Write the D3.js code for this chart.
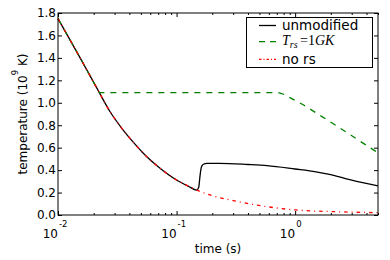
<!DOCTYPE html>
<html>
<head>
<meta charset="utf-8">
<script src="https://cdn.jsdelivr.net/npm/d3@7"></script>
<style>
  body { margin: 0; background: #fff; }
  svg { display: block; }
  .tick text { font-family: "DejaVu Sans", sans-serif; font-size: 12px; fill: #000; }
  .tick line { stroke: #000; }
</style>
</head>
<body>
<div id="chart"></div>
<script>
var svgWidth = 390;
var svgHeight = 260;

var margin = { top: 13, right: 12, bottom: 45, left: 58 };
var width = svgWidth - margin.left - margin.right;
var height = svgHeight - margin.top - margin.bottom;

// shared cooling part (all three runs coincide here)
var timeEarly = [0.01, 0.015, 0.0218];
var tempEarly = [1.75, 1.42, 1.11];

// unmodified run
var timeUnmod = [0.0275, 0.0344, 0.045, 0.0524, 0.07, 0.1, 0.125, 0.148, 0.154, 0.157, 0.16, 0.164, 0.171, 0.18, 0.23, 0.4, 0.58, 1.0, 1.5, 1.9, 3.0, 5.0];
var tempUnmod = [0.92, 0.775, 0.627, 0.55, 0.43, 0.312, 0.258, 0.222, 0.25, 0.33, 0.40, 0.44, 0.455, 0.46, 0.46, 0.45, 0.44, 0.41, 0.385, 0.365, 0.31, 0.26];

// T_rs = 1 GK run
var timeTrs = [0.0222, 0.72, 0.8, 1.18, 2.25, 3.33, 5.0];
var tempTrs = [1.09, 1.09, 1.076, 0.98, 0.793, 0.675, 0.555];

// no rs run (follows unmodified until the jump)
var timeNoRs = [0.167, 0.2, 0.3, 0.58, 1.0, 2.1, 5.0];
var tempNoRs = [0.20, 0.172, 0.128, 0.074, 0.045, 0.03, 0.021];

var legendLabels = ["unmodified", "T_rs=1GK", "no rs"];
var yTicks = [0.0, 0.2, 0.4, 0.6, 0.8, 1.0, 1.2, 1.4, 1.6, 1.8];
var xMajor = [0.01, 0.1, 1];
var xExp = ["-2", "-1", "0"];

function zip(ts, vs) {
    return ts.map(function (t, i) { return { t: t, v: vs[i] }; });
}

var unmodData = zip(timeEarly.concat(timeUnmod), tempEarly.concat(tempUnmod));
var trsData = zip(timeEarly.concat(timeTrs), tempEarly.concat(tempTrs));
var noRsData = zip(timeEarly.concat(timeUnmod.slice(0, 8), timeNoRs),
                   tempEarly.concat(tempUnmod.slice(0, 8), tempNoRs));

var svg = d3.select("#chart")
    .append("svg")
    .attr("width", svgWidth)
    .attr("height", svgHeight);

var chartGroup = svg.append("g")
    .attr("transform", `translate(${margin.left}, ${margin.top})`);

var xScale = d3.scaleLog().domain([0.01, 5]).range([0, width]);
var yScale = d3.scaleLinear().domain([0, 1.8]).range([height, 0]);

// minor ticks on the log axis
var xMinor = [];
[0.01, 0.1, 1].forEach(function (base) {
    for (var k = 2; k <= 9; k++) {
        var v = base * k;
        if (v <= 5) xMinor.push(v);
    }
});

// axes, ticks pointing inward
function xAxisGroup(axisFn, y, values, size) {
    var g = chartGroup.append("g")
        .attr("transform", `translate(0, ${y})`)
        .call(axisFn(xScale).tickValues(values).tickSize(-size).tickFormat(""));
    g.select(".domain").remove();
    return g;
}
xAxisGroup(d3.axisBottom, height, xMajor, 4);
xAxisGroup(d3.axisBottom, height, xMinor, 2);
xAxisGroup(d3.axisTop, 0, xMajor, 4);
xAxisGroup(d3.axisTop, 0, xMinor, 2);

var leftAxis = chartGroup.append("g")
    .call(d3.axisLeft(yScale).tickValues(yTicks).tickSize(-4).tickPadding(2)
        .tickFormat(d3.format(".1f")));
leftAxis.select(".domain").remove();

var rightAxis = chartGroup.append("g")
    .attr("transform", `translate(${width}, 0)`)
    .call(d3.axisRight(yScale).tickValues(yTicks).tickSize(-4).tickFormat(""));
rightAxis.select(".domain").remove();

// 10^n labels
xMajor.forEach(function (v, i) {
    var lab = chartGroup.append("g").attr("transform", `translate(${xScale(v)}, ${height})`);
    lab.append("text")
        .attr("x", 0).attr("y", 23)
        .attr("text-anchor", "end")
        .style("font-family", "DejaVu Sans, sans-serif")
        .style("font-size", "12px")
        .text("10");
    lab.append("text")
        .attr("x", 1).attr("y", 11.5)
        .attr("text-anchor", "start")
        .style("font-family", "DejaVu Sans, sans-serif")
        .style("font-size", "8.5px")
        .text(xExp[i]);
});

// curves
var line = d3.line()
    .x(d => xScale(d.t))
    .y(d => yScale(d.v))
    .curve(d3.curveMonotoneX);

var lineStraight = d3.line()
    .x(d => xScale(d.t))
    .y(d => yScale(d.v));

var plot = chartGroup.append("g");

plot.append("path")
    .datum(unmodData)
    .attr("d", line)
    .attr("fill", "none")
    .attr("stroke", "#000000")
    .attr("stroke-width", 1.3);

plot.append("path")
    .datum(trsData)
    .attr("d", lineStraight)
    .attr("fill", "none")
    .attr("stroke", "#008000")
    .attr("stroke-width", 1.3)
    .attr("stroke-dasharray", "6,6");

plot.append("path")
    .datum(noRsData)
    .attr("d", line)
    .attr("fill", "none")
    .attr("stroke", "#ff0000")
    .attr("stroke-width", 1.3)
    .attr("stroke-dasharray", "3.5,4,1,4");

// frame
chartGroup.append("rect")
    .attr("width", width)
    .attr("height", height)
    .attr("fill", "none")
    .attr("stroke", "#000")
    .attr("stroke-width", 1);

// axis labels
chartGroup.append("text")
    .attr("transform", `translate(${width / 2}, ${height + 38})`)
    .attr("text-anchor", "middle")
    .style("font-family", "DejaVu Sans, sans-serif")
    .style("font-size", "12px")
    .text("time (s)");

var yLab = svg.append("text")
    .attr("transform", `translate(27, ${margin.top + height / 2}) rotate(-90)`)
    .attr("text-anchor", "middle")
    .style("font-family", "DejaVu Sans, sans-serif")
    .style("font-size", "12px");
yLab.append("tspan").text("temperature (10");
yLab.append("tspan").attr("dy", -9).style("font-size", "8.5px").text("9");
yLab.append("tspan").attr("dy", 9).text(" K)");

// legend
var legend = svg.append("g");
legend.append("rect")
    .attr("x", 246.5).attr("y", 17.5)
    .attr("width", 126).attr("height", 50)
    .attr("fill", "#fff")
    .attr("stroke", "#000")
    .attr("stroke-width", 1);

var rows = [
    { y: 25.5, base: 29.5, stroke: "#000000", dash: null },
    { y: 41.7, base: 45.3, stroke: "#008000", dash: "6,5" },
    { y: 59.3, base: 63.5, stroke: "#ff0000", dash: "2.5,2,1,2" }
];
rows.forEach(function (r, i) {
    legend.append("line")
        .attr("x1", 259).attr("x2", 276)
        .attr("y1", r.y).attr("y2", r.y)
        .attr("stroke", r.stroke)
        .attr("stroke-width", 1.3)
        .attr("stroke-dasharray", r.dash);
    if (i === 1) {
        var t = legend.append("text")
            .attr("x", 282).attr("y", r.base)
            .style("font-family", "Liberation Serif, serif")
            .style("font-size", "14px");
        t.append("tspan").style("font-style", "italic").text("T");
        t.append("tspan").attr("dy", 3).style("font-style", "italic").style("font-size", "10px").text("rs");
        t.append("tspan").attr("dy", -3).attr("dx", 2.5).text("=1");
        t.append("tspan").style("font-style", "italic").text("GK");
    } else {
        legend.append("text")
            .attr("x", 282).attr("y", r.base)
            .style("font-family", "DejaVu Sans, sans-serif")
            .style("font-size", "13.5px")
            .text(legendLabels[i]);
    }
});
</script>
</body>
</html>
